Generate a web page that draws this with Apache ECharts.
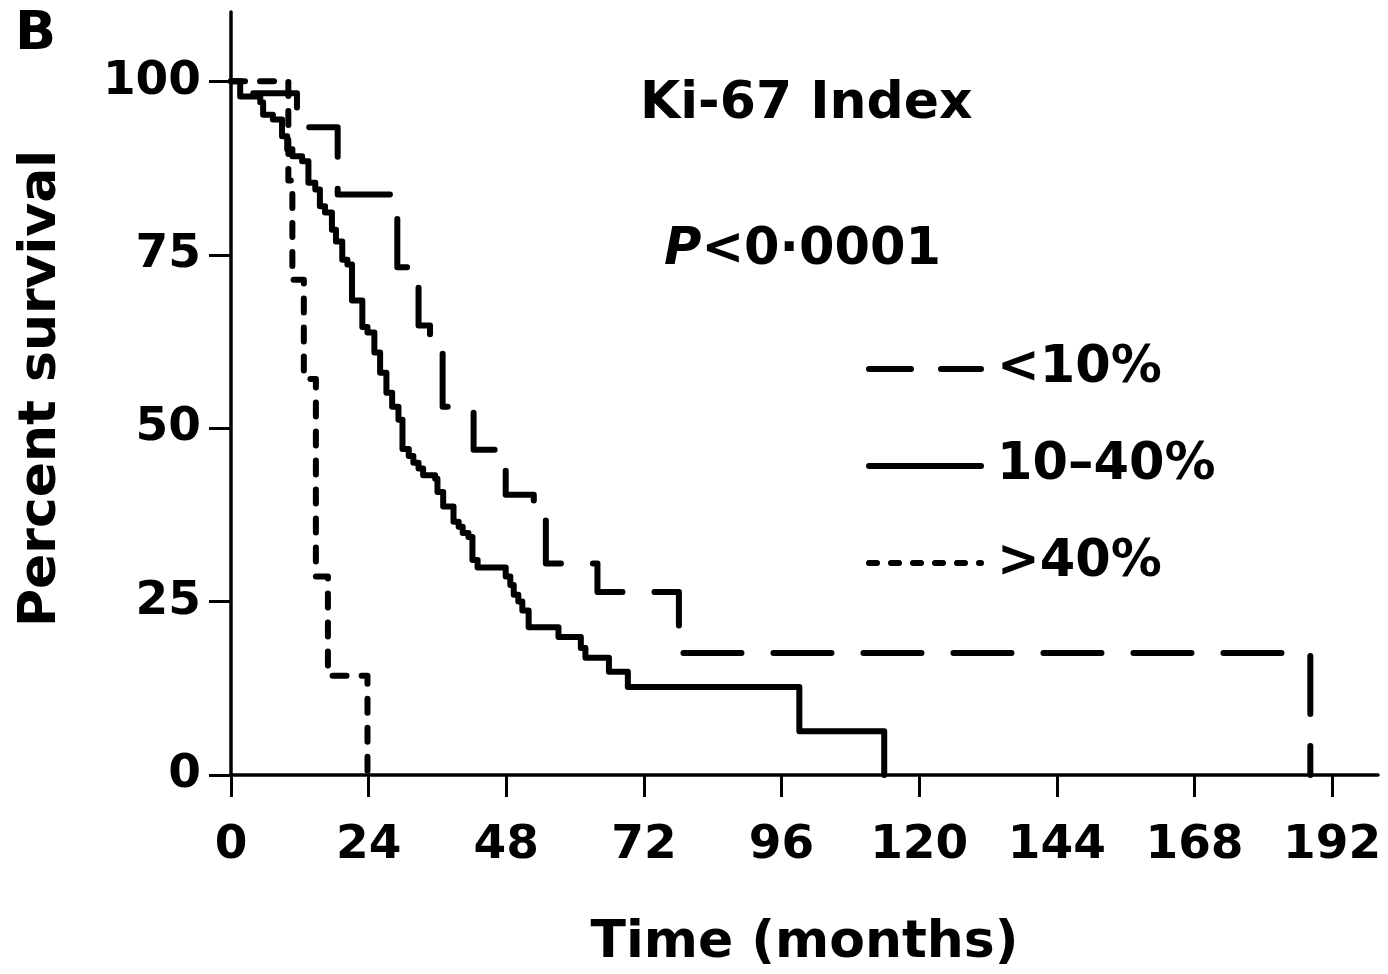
<!DOCTYPE html>
<html>
<head>
<meta charset="utf-8">
<script src="https://cdn.jsdelivr.net/npm/echarts@6/dist/echarts.min.js"></script>
<style>
html,body{margin:0;padding:0;background:#fff;}
#chart{width:1388px;height:974px;}
</style>
</head>
<body>
<div id="chart"></div>
<script>
// ---- data ----
const xTicks = [0, 24, 48, 72, 96, 120, 144, 168, 192];
const yTicks = [0, 25, 50, 75, 100];
const seriesNames = ['<10%', '10\u201340%', '>40%'];

const lowTimes = [0, 3, 11.5, 18.6, 27.8, 29.0, 31.6, 32.7, 34.7, 36.9, 42.3, 47.9, 52.8, 54.9, 63.9, 78.1, 188.2];
const lowSurv  = [100, 98.3, 93.4, 83.7, 81.2, 73.2, 70.4, 64.8, 62.0, 53.1, 46.9, 40.4, 37.2, 30.5, 26.4, 17.6, 0];

const midTimes = [0, 1.6, 5.1, 5.6, 7.3, 8.9, 9.8, 10.7, 12.4, 13.5, 14.7, 15.5, 16.4, 17.6, 18.3, 19.4, 20.3, 21.1, 22.9, 23.8, 25.0, 26.0, 27.1, 28.1, 29.2, 29.9, 31.0, 31.8, 32.7, 33.5, 35.6, 36.0, 37.0, 38.8, 39.7, 40.4, 41.4, 42.1, 43.0, 47.9, 48.7, 49.3, 50.1, 50.8, 51.9, 57.1, 61.0, 61.8, 65.9, 69.2, 99.1, 113.9];
const midSurv  = [100, 97.8, 97.0, 95.2, 94.5, 92.1, 90.2, 89.2, 88.5, 85.4, 84.4, 82.0, 81.1, 78.6, 76.9, 74.3, 73.6, 68.4, 64.6, 63.8, 60.9, 58.0, 55.1, 53.1, 51.2, 47.0, 46.0, 45.0, 44.2, 43.2, 42.7, 40.8, 38.7, 36.5, 35.8, 34.9, 34.3, 31.0, 29.9, 28.6, 27.4, 26.0, 25.0, 23.7, 21.3, 19.9, 18.3, 16.9, 14.9, 12.7, 6.3, 0];

const highTimes = [0, 10.0, 10.7, 12.7, 14.8, 16.9, 23.8];
const highSurv  = [100, 85.7, 71.4, 57.1, 28.6, 14.3, 0];

// ---- build ----
function pairs(t, s) { return t.map((v, i) => [v, s[i]]); }
const FONT = 'DejaVu Sans';
const chart = echarts.init(document.getElementById('chart'), null, {renderer: 'canvas'});

function kmSeries(name, data, type, offset) {
  return {
    name: name,
    type: 'line',
    step: 'end',
    data: data,
    symbol: 'none',
    showSymbol: false,
    silent: true,
    lineStyle: {color: '#000', width: 6, type: type, dashOffset: offset || 0, cap: 'round', join: 'round'},
    itemStyle: {color: '#000'}
  };
}

chart.setOption({
  animation: false,
  backgroundColor: '#fff',
  grid: {left: 231, right: 10, top: 12, bottom: 199, containLabel: false},
  title: [
    {text: 'B', left: 15, top: 8, padding: 0,
     textStyle: {fontFamily: FONT, fontWeight: 'bold', fontSize: 54, color: '#000'}},
    {text: 'Ki-67 Index', left: 640, top: 78, padding: 0,
     textStyle: {fontFamily: FONT, fontWeight: 'bold', fontSize: 52, color: '#000'}},
    {text: '{i|P}{n|<0\u00b70001}', left: 664, top: 225, padding: 0,
     textStyle: {rich: {
       i: {fontFamily: FONT, fontWeight: 'bold', fontStyle: 'italic', fontSize: 51, color: '#000'},
       n: {fontFamily: FONT, fontWeight: 'bold', fontSize: 51, color: '#000'}
     }}}
  ],
  legend: {
    orient: 'vertical',
    left: 866, top: 339, padding: 0,
    itemWidth: 112, itemHeight: 14, itemGap: 37,
    selectedMode: false,
    itemStyle: {opacity: 0, borderWidth: 0},
    lineStyle: {width: 6, color: '#000', cap: 'round', dashOffset: 0},
    data: [
      {name: seriesNames[0], lineStyle: {type: [42, 30], dashOffset: 0, width: 6, cap: 'round'}},
      {name: seriesNames[1], lineStyle: {type: 'solid', width: 6}},
      {name: seriesNames[2], lineStyle: {type: [8, 14], dashOffset: 0, width: 6, cap: 'round'}}
    ],
    textStyle: {fontFamily: FONT, fontWeight: 'bold', fontSize: 51, color: '#000', lineHeight: 60, padding: [0, 0, 0, 11]}
  },
  xAxis: {
    type: 'value', min: 0, max: 200,
    name: 'Time (months)', nameLocation: 'middle', nameGap: 142,
    nameTextStyle: {fontFamily: FONT, fontWeight: 'bold', fontSize: 52, color: '#000'},
    splitLine: {show: false},
    axisLine: {show: true, onZero: false, lineStyle: {color: '#000', width: 3.5}},
    axisTick: {show: true, length: 22, inside: false, customValues: xTicks, lineStyle: {color: '#000', width: 3}},
    axisLabel: {customValues: xTicks, margin: 47, fontFamily: FONT, fontWeight: 'bold', fontSize: 47, color: '#000'}
  },
  yAxis: {
    type: 'value', min: 0, max: 110,
    name: 'Percent survival', nameLocation: 'middle', nameGap: 164, nameRotate: 90,
    nameTextStyle: {fontFamily: FONT, fontWeight: 'bold', fontSize: 52, color: '#000', padding: [0, 0, 0, 10]},
    splitLine: {show: false},
    axisLine: {show: true, onZero: false, lineStyle: {color: '#000', width: 3.5}},
    axisTick: {show: true, length: 22, inside: false, customValues: yTicks, lineStyle: {color: '#000', width: 3}},
    axisLabel: {customValues: yTicks, margin: 30, fontFamily: FONT, fontWeight: 'bold', fontSize: 47, color: '#000'}
  },
  series: [
    kmSeries(seriesNames[0], pairs(lowTimes, lowSurv), [58, 32], 56),
    kmSeries(seriesNames[1], pairs(midTimes, midSurv), 'solid'),
    kmSeries(seriesNames[2], pairs(highTimes, highSurv), [14, 15])
  ]
});
</script>
</body>
</html>
